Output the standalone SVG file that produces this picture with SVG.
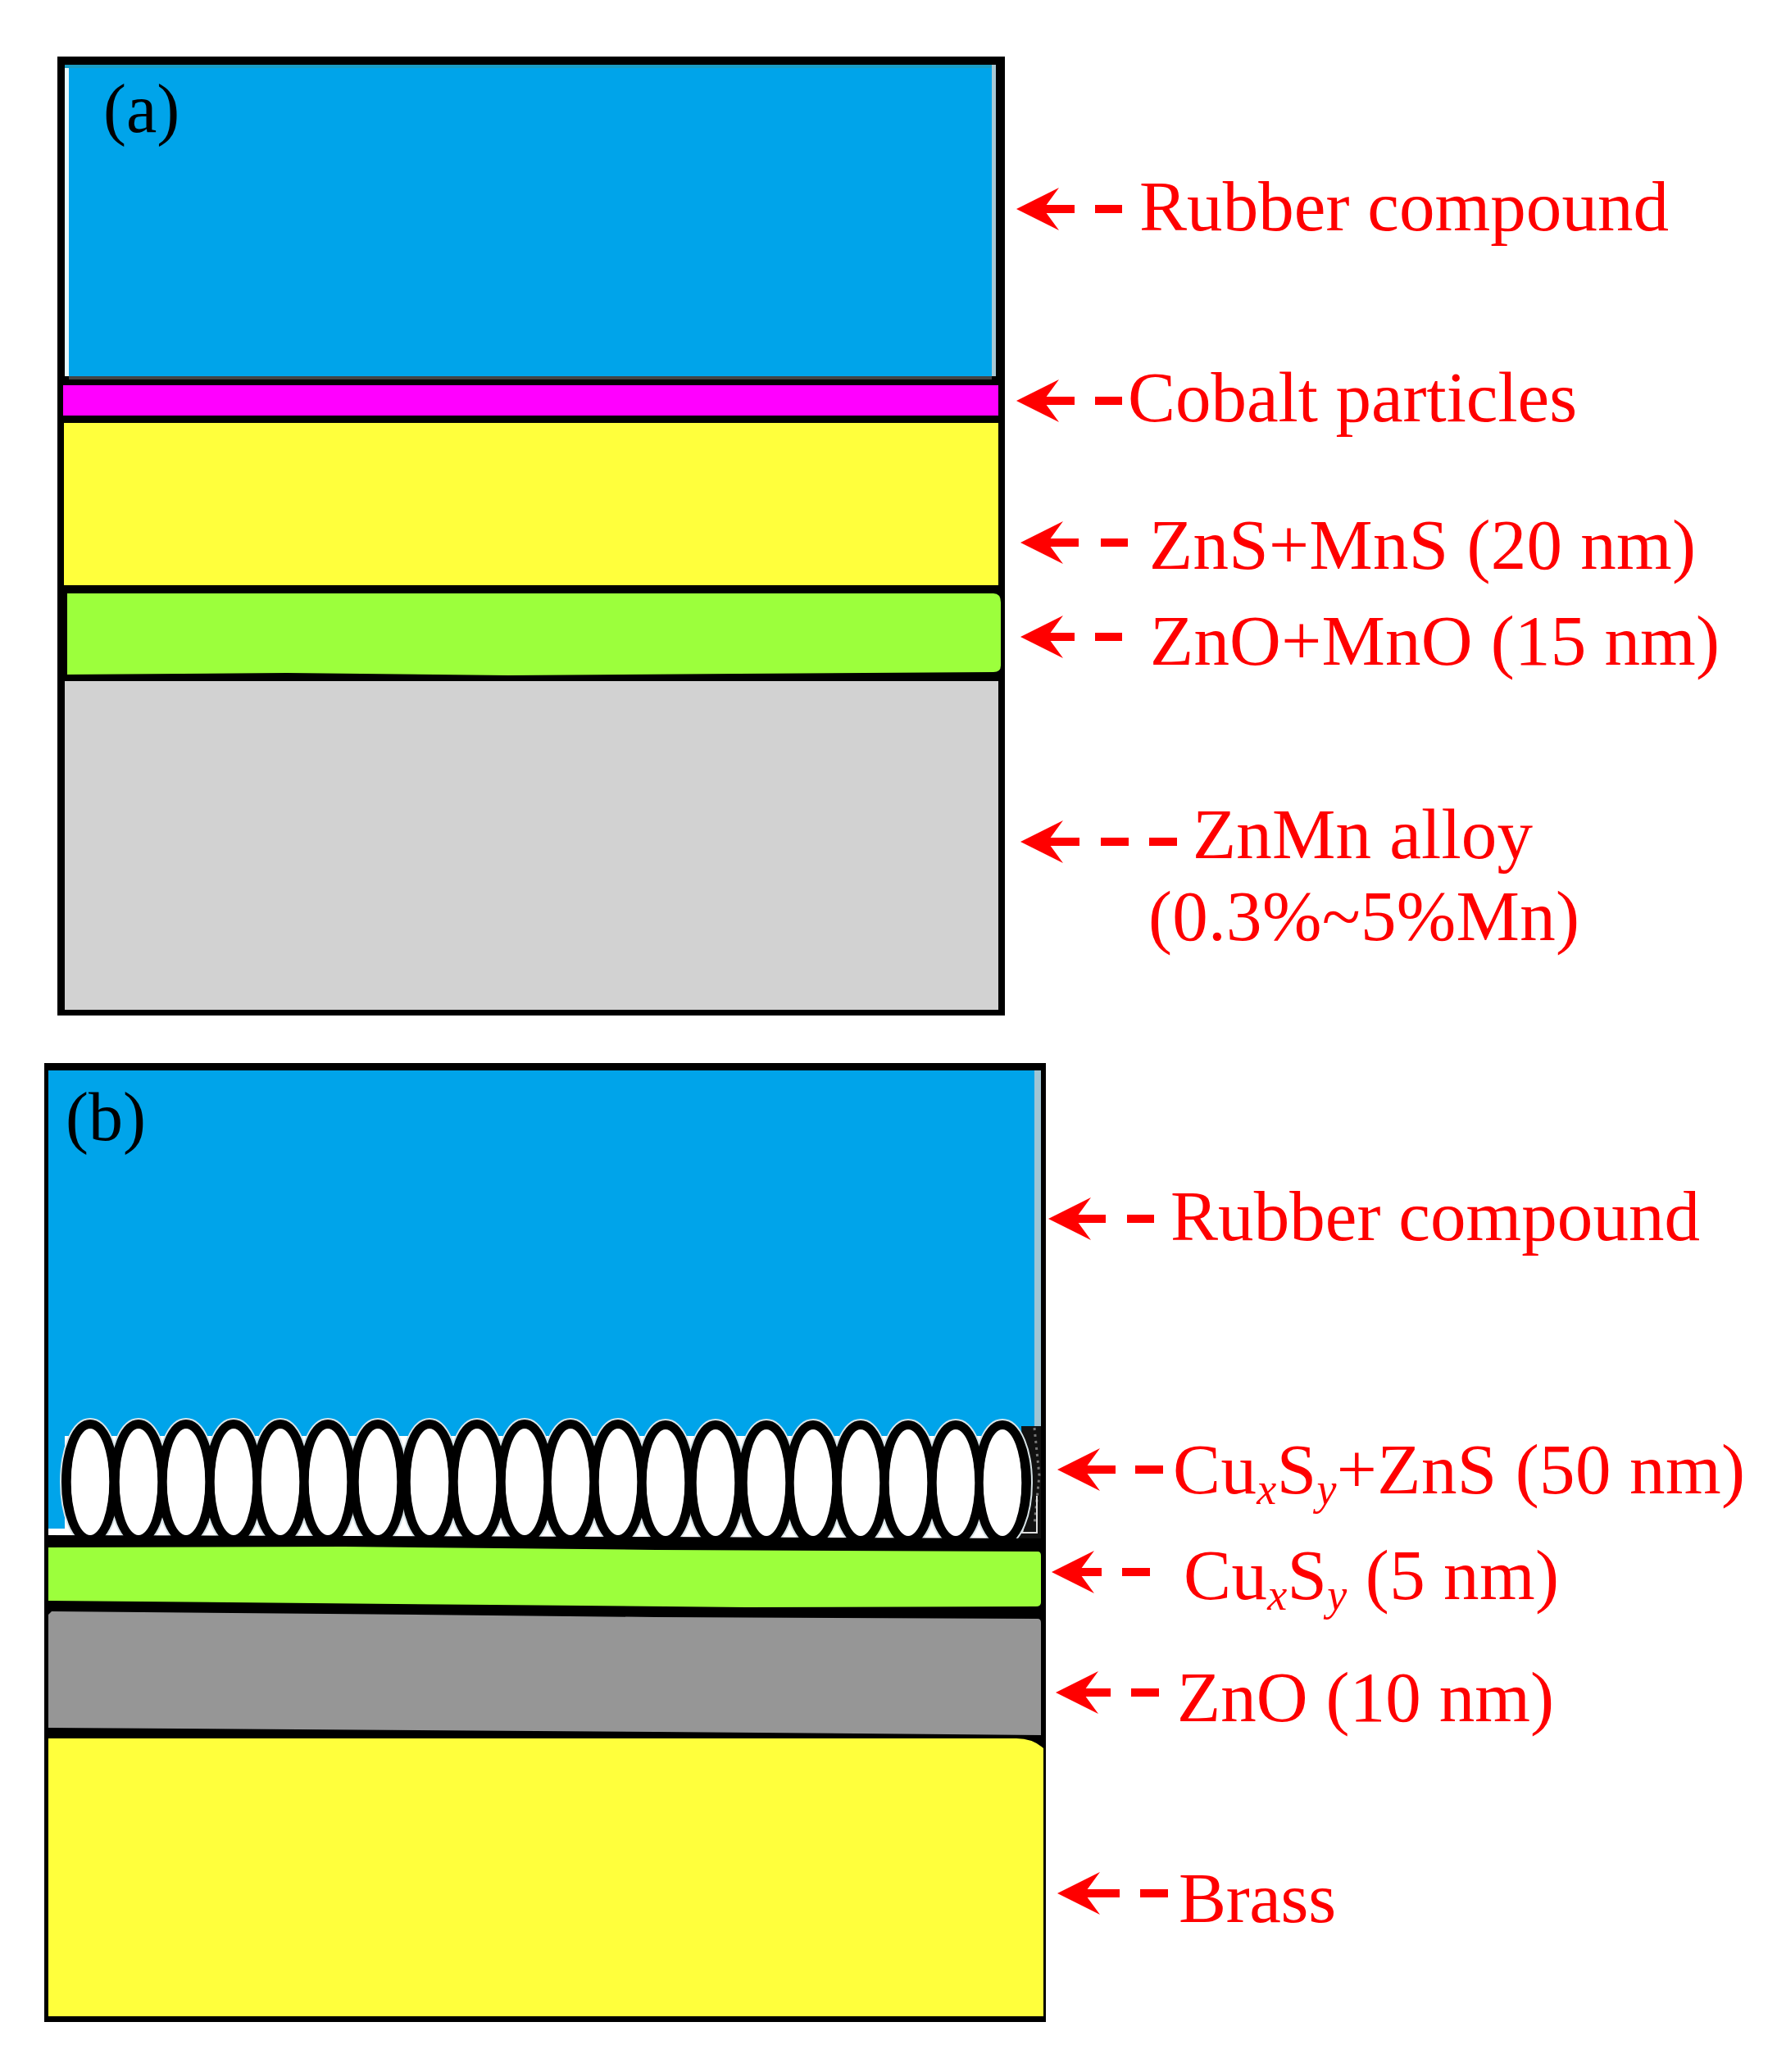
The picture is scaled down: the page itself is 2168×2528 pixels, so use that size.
<svg xmlns="http://www.w3.org/2000/svg" width="2168" height="2528" viewBox="0 0 2168 2528">
<style>
.lb{font-family:"Liberation Serif","Times New Roman",serif;font-size:87px;fill:#ff0000}
.pl{font-family:"Liberation Serif","Times New Roman",serif;font-size:84px;fill:#000}
.sub{font-size:54px;font-style:italic}
.dash{stroke:#ff0000;stroke-width:10;fill:none}
.hd{fill:#ff0000}
.k{fill:#000}
.blue{fill:#00a4ea}
.ol{fill:none;stroke:#000;stroke-width:12}
.halo{fill:none;stroke:#d8e4e8;stroke-width:16}
.sp{fill:none;stroke:#777;stroke-width:3;stroke-dasharray:3 5}
</style>
<defs>
<path id="head" d="M0 0L52 -26L33 0L52 26Z"/>
<ellipse id="hal" class="halo" rx="29" ry="70"/>
<ellipse id="bub" class="ol" rx="29" ry="70"/>
<ellipse id="inn" rx="23.3" ry="65" fill="#fff"/>
</defs>
<rect width="2168" height="2528" fill="#fff"/>

<g id="panel-a">
<g id="a-frame"><rect class="k" x="70" y="69" width="1156" height="1170"/></g>
<g id="a-rubber"><rect x="79" y="79" width="1136" height="6" fill="#1a9cc4"/><rect x="79" y="83" width="5" height="376" fill="#e6f7fc"/><rect x="1210" y="79" width="5" height="380" fill="#a8c8d4"/><rect class="blue" x="84" y="83" width="1126" height="376"/><rect x="84" y="459" width="1126" height="4" fill="#444"/><text class="pl" x="126" y="161">(a)</text></g>
<g id="a-cobalt"><rect x="77" y="470" width="1141" height="37" fill="#ff00ff"/></g>
<g id="a-zns"><rect x="78" y="516" width="1140" height="198" fill="#ffff3c"/></g>
<g id="a-zno"><path d="M82 724H1212Q1221 724 1221 735V812Q1221 820 1212 820L900 822L620 824L350 821L82 823Z" fill="#9cff3c"/></g>
<g id="a-alloy"><rect x="79" y="831" width="1139" height="401" fill="#d2d2d2"/></g>
</g>

<g id="panel-b">
<g id="b-frame"><rect class="k" x="54" y="1297" width="1222" height="1170"/></g>
<g id="b-rubber"><rect x="59" y="1306" width="1211" height="580" fill="#fff"/><rect x="1262" y="1306" width="8" height="440" fill="#9fc5d4"/><rect class="blue" x="59" y="1306" width="1203" height="446"/><rect class="blue" x="59" y="1700" width="20" height="165"/><text class="pl" x="80" y="1391">(b)</text></g>
<g id="b-cuxsy-zns">
<path d="M1246 1740H1270V1878H1236L1250 1850Z" fill="#111"/><path d="M1262 1742L1268 1800L1262 1860" class="sp"/><path d="M1252 1850L1247 1870H1265V1825" fill="none" stroke="#ddd" stroke-width="2"/>
<use href="#hal" x="110" y="1808"/><use href="#hal" x="169" y="1808"/><use href="#hal" x="227" y="1808"/><use href="#hal" x="285" y="1808"/><use href="#hal" x="342" y="1808"/><use href="#hal" x="400" y="1808"/><use href="#hal" x="461" y="1808"/><use href="#hal" x="524" y="1808"/><use href="#hal" x="582" y="1808"/><use href="#hal" x="640" y="1808"/><use href="#hal" x="696" y="1808"/><use href="#hal" x="754" y="1808"/><use href="#hal" x="812" y="1809"/><use href="#hal" x="873" y="1809"/><use href="#hal" x="935" y="1809"/><use href="#hal" x="992" y="1809"/><use href="#hal" x="1050" y="1809"/><use href="#hal" x="1108" y="1809"/><use href="#hal" x="1166" y="1809"/><use href="#hal" x="1223" y="1809"/>
<use href="#bub" x="110" y="1808"/><use href="#bub" x="169" y="1808"/><use href="#bub" x="227" y="1808"/><use href="#bub" x="285" y="1808"/><use href="#bub" x="342" y="1808"/><use href="#bub" x="400" y="1808"/><use href="#bub" x="461" y="1808"/><use href="#bub" x="524" y="1808"/><use href="#bub" x="582" y="1808"/><use href="#bub" x="640" y="1808"/><use href="#bub" x="696" y="1808"/><use href="#bub" x="754" y="1808"/><use href="#bub" x="812" y="1809"/><use href="#bub" x="873" y="1809"/><use href="#bub" x="935" y="1809"/><use href="#bub" x="992" y="1809"/><use href="#bub" x="1050" y="1809"/><use href="#bub" x="1108" y="1809"/><use href="#bub" x="1166" y="1809"/><use href="#bub" x="1223" y="1809"/>
<use href="#inn" x="110" y="1808"/><use href="#inn" x="169" y="1808"/><use href="#inn" x="227" y="1808"/><use href="#inn" x="285" y="1808"/><use href="#inn" x="342" y="1808"/><use href="#inn" x="400" y="1808"/><use href="#inn" x="461" y="1808"/><use href="#inn" x="524" y="1808"/><use href="#inn" x="582" y="1808"/><use href="#inn" x="640" y="1808"/><use href="#inn" x="696" y="1808"/><use href="#inn" x="754" y="1808"/><use href="#inn" x="812" y="1809"/><use href="#inn" x="873" y="1809"/><use href="#inn" x="935" y="1809"/><use href="#inn" x="992" y="1809"/><use href="#inn" x="1050" y="1809"/><use href="#inn" x="1108" y="1809"/><use href="#inn" x="1166" y="1809"/><use href="#inn" x="1223" y="1809"/>
<path class="k" d="M54 1873L800 1875L1276 1877V1892L800 1891L54 1887Z"/>
</g>
<g id="b-cuxsy"><path d="M59 1888L420 1887L800 1891L1266 1893Q1270 1893 1270 1898V1955Q1270 1960 1264 1960L910 1961L600 1958L59 1953Z" fill="#9cff3c"/></g>
<g id="b-zno"><path d="M63 1966L400 1969L800 1973L1266 1975Q1270 1975 1270 1980V2117L800 2113L59 2108V1970Z" fill="#969696"/></g>
<g id="b-brass"><path d="M59 2121H1240Q1260 2121 1273 2133V2460H59Z" fill="#ffff3c"/></g>
</g>

<g id="connectors">
<use class="hd" href="#head" x="1240" y="255"/><path class="dash" d="M1272 255H1311M1336 255H1369"/>
<use class="hd" href="#head" x="1240" y="489"/><path class="dash" d="M1272 489H1311M1336 489H1369"/>
<use class="hd" href="#head" x="1245" y="662"/><path class="dash" d="M1277 662H1316M1343 662H1376"/>
<use class="hd" href="#head" x="1245" y="777"/><path class="dash" d="M1277 777H1311M1336 777H1369"/>
<use class="hd" href="#head" x="1245" y="1027"/><path class="dash" d="M1277 1027H1317M1343 1027H1377M1402 1027H1436"/>
<use class="hd" href="#head" x="1279" y="1487"/><path class="dash" d="M1311 1487H1349M1375 1487H1408"/>
<use class="hd" href="#head" x="1290" y="1793"/><path class="dash" d="M1322 1793H1361M1385 1793H1419"/>
<use class="hd" href="#head" x="1283" y="1918"/><path class="dash" d="M1315 1918H1344M1369 1918H1403"/>
<use class="hd" href="#head" x="1288" y="2065"/><path class="dash" d="M1320 2065H1355M1380 2065H1414"/>
<use class="hd" href="#head" x="1290" y="2310"/><path class="dash" d="M1322 2310H1366M1391 2310H1425"/>
</g>

<g id="labels">
<text class="lb" x="1390" y="281" textLength="646">Rubber compound</text>
<text class="lb" x="1376" y="514" textLength="548">Cobalt particles</text>
<text class="lb" x="1402" y="694" textLength="667">ZnS+MnS (20 nm)</text>
<text class="lb" x="1403" y="811" textLength="695">ZnO+MnO (15 nm)</text>
<text class="lb" x="1455" y="1047" textLength="415">ZnMn alloy</text>
<text class="lb" x="1401" y="1147" textLength="526">(0.3%~5%Mn)</text>
<text class="lb" x="1428" y="1513" textLength="646">Rubber compound</text>
<text class="lb" x="1431" y="1822" textLength="698">Cu<tspan class="sub" dy="13">x</tspan><tspan dy="-13">S</tspan><tspan class="sub" dy="13">y</tspan><tspan dy="-13">+ZnS (50 nm)</tspan></text>
<text class="lb" x="1444" y="1951" textLength="458">Cu<tspan class="sub" dy="13">x</tspan><tspan dy="-13">S</tspan><tspan class="sub" dy="13">y</tspan><tspan dy="-13"> (5 nm)</tspan></text>
<text class="lb" x="1436" y="2100" textLength="460">ZnO (10 nm)</text>
<text class="lb" x="1438" y="2345" textLength="192">Brass</text>
</g>
</svg>
